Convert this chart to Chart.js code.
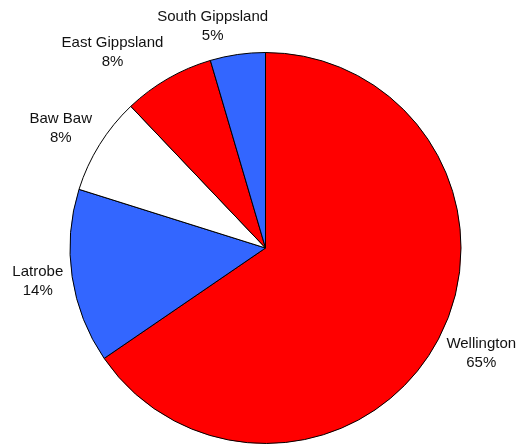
<!DOCTYPE html>
<html>
<head>
<meta charset="utf-8">
<script src="https://cdn.jsdelivr.net/npm/chart.js@4/dist/chart.umd.min.js"></script>
<style>
  body { margin: 0; background: #fff; }
</style>
</head>
<body>
<canvas id="pie" width="519" height="444"></canvas>
<script>
// shire shares, clockwise from 12 o'clock
var regions = ['Wellington', 'Latrobe', 'Baw Baw', 'East Gippsland', 'South Gippsland'];
var shares = [65.45, 14.4, 8.05, 7.55, 4.55];
var sliceColors = ['#ff0000', '#3366ff', '#ffffff', '#ff0000', '#3366ff'];

// Excel-style outside labels: name on one line, percent under it
var outsideLabels = {
    id: 'outsideLabels',
    afterDatasetsDraw: function(chart) {
        var ctx = chart.ctx;
        var meta = chart.getDatasetMeta(0);
        var data = chart.data.datasets[0].data;
        var total = data.reduce(function(a, b) { return a + b; }, 0);
        var lineH = 19;
        ctx.save();
        ctx.font = '15px "Liberation Sans", Arial, sans-serif';
        ctx.fillStyle = '#111';
        ctx.textAlign = 'center';
        ctx.textBaseline = 'middle';
        meta.data.forEach(function(arc, i) {
            var mid = (arc.startAngle + arc.endAngle) / 2;
            var dx = Math.cos(mid), dy = Math.sin(mid);
            var r = arc.outerRadius + 9;
            var ax = arc.x + dx * r, ay = arc.y + dy * r;
            var name = chart.data.labels[i];
            var pct = Math.round(data[i] / total * 100) + '%';
            var w = Math.max(ctx.measureText(name).width, ctx.measureText(pct).width);
            var h = lineH * 2;
            var fx = Math.max(-1, Math.min(1, dx * 3));
            var fy = Math.max(-1, Math.min(1, dy * 1.15));
            var cx = ax + fx * w / 2;
            var cy = ay + fy * h / 2;
            ctx.fillText(name, cx, cy - lineH / 2);
            ctx.fillText(pct, cx, cy + lineH / 2);
        });
        ctx.restore();
    }
};

new Chart(document.getElementById('pie').getContext('2d'), {
    type: 'pie',
    data: {
        labels: regions,
        datasets: [{
            data: shares,
            backgroundColor: sliceColors,
            borderColor: '#000000',
            borderWidth: 1
        }]
    },
    options: {
        responsive: false,
        animation: false,
        layout: {
            padding: { top: 52, bottom: -3, left: 68, right: 56 }
        },
        plugins: {
            legend: { display: false },
            tooltip: { enabled: false }
        }
    },
    plugins: [outsideLabels]
});
</script>
</body>
</html>
